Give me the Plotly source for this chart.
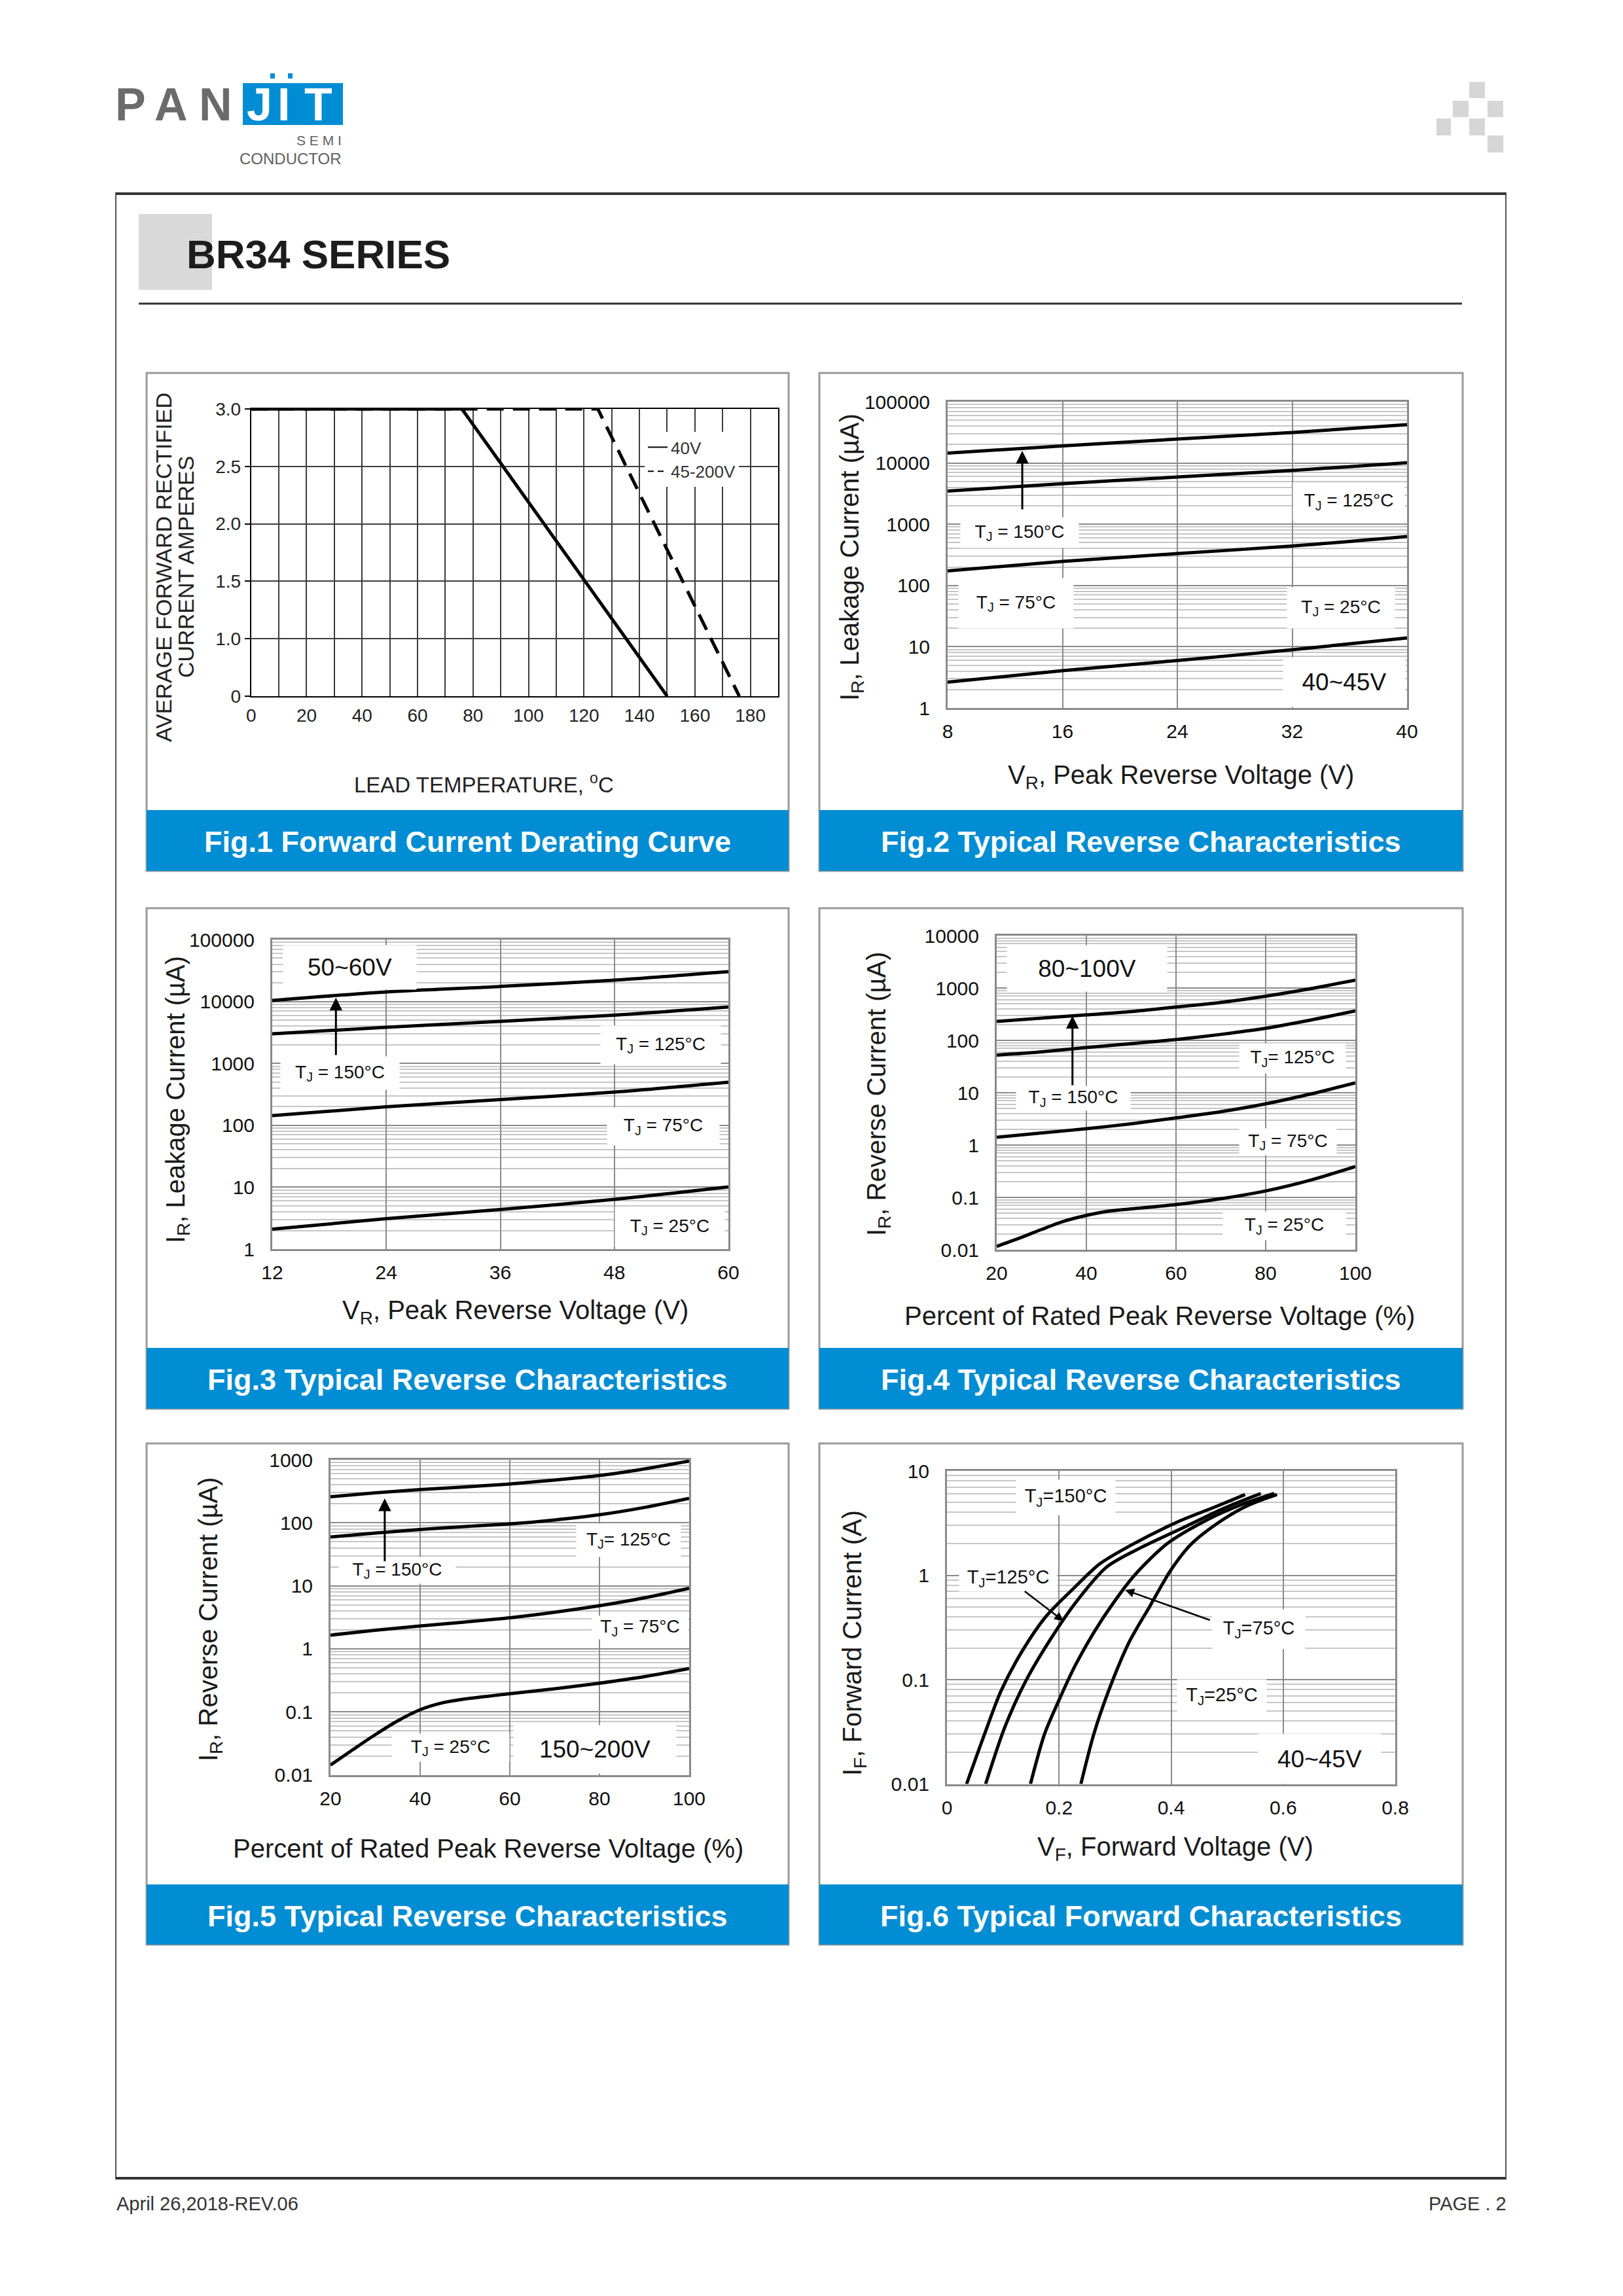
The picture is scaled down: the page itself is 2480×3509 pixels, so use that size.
import math
import plotly.graph_objects as go

# ---------------------------------------------------------------- data
# Fig.1 Forward current derating
fig1_temp_40v = [0, 76, 150]
fig1_amp_40v = [3.0, 3.0, 0.0]
fig1_temp_45_200v = [0, 125, 176]
fig1_amp_45_200v = [3.0, 3.0, 0.0]
fig1_x_ticks = list(range(0, 181, 20))
fig1_y_ticks = [0.0, 0.6, 1.2, 1.8, 2.4, 3.0]
fig1_y_labels = ["0", "1.0", "1.5", "2.0", "2.5", "3.0"]

# Fig.2 40~45V reverse characteristics
fig2_vr = [8, 16, 24, 32, 40]
fig2_150 = [14500, 19000, 24600, 31500, 42300]
fig2_125 = [3480, 4600, 5900, 7550, 10100]
fig2_75 = [173, 247, 332, 441, 630]
fig2_25 = [2.64, 4.07, 5.95, 8.93, 13.9]
fig2_arrow = (13.2, 1680, 15800)  # x, tail, head

# Fig.3 50~60V reverse characteristics
fig3_vr = [12, 24, 36, 48, 60]
fig3_150 = [10400, 14300, 17500, 22100, 30300]
fig3_125 = [3000, 3840, 4780, 6020, 8150]
fig3_75 = [143, 199, 260, 344, 497]
fig3_25 = [2.10, 3.10, 4.36, 6.36, 10.1]
fig3_arrow = (18.7, 1310, 11500)

# Fig.4 80~100V reverse characteristics
fig4_pct = [20, 30, 40, 50, 60, 70, 80, 90, 100]
fig4_150 = [230, 266, 307, 355, 434, 531, 698, 972, 1413]
fig4_125 = [52.3, 60.4, 72.9, 86.6, 104, 130, 170, 244, 365]
fig4_75 = [1.41, 1.70, 2.05, 2.55, 3.30, 4.34, 6.13, 9.44, 15.4]
fig4_25_pct = [20, 25, 30, 35, 40, 45, 50, 60, 70, 80, 90, 100]
fig4_25 = [0.0116, 0.0166, 0.0244, 0.035, 0.0453, 0.0546, 0.0604, 0.0729, 0.0944, 0.133, 0.214, 0.387]
fig4_arrow = (36.9, 13.3, 294)

# Fig.5 150~200V reverse characteristics
fig5_pct = [20, 30, 40, 50, 60, 70, 80, 90, 100]
fig5_150 = [259, 299, 337, 371, 413, 477, 563, 716, 953]
fig5_125 = [59.6, 68.8, 78.4, 87.3, 96, 111, 134, 175, 244]
fig5_75 = [1.65, 1.97, 2.30, 2.66, 3.11, 3.81, 4.83, 6.44, 9.1]
fig5_25_pct = [20, 25, 30, 35, 40, 45, 50, 60, 70, 80, 90, 100]
fig5_25 = [0.0143, 0.0251, 0.0435, 0.072, 0.108, 0.139, 0.160, 0.194, 0.232, 0.285, 0.361, 0.487]
fig5_arrow = (32.1, 23.7, 244)

# Fig.6 forward characteristics
fig6_150_v = [0.035, 0.067, 0.096, 0.133, 0.177, 0.229, 0.273, 0.332, 0.414, 0.48, 0.532]
fig6_150_i = [0.01, 0.030, 0.077, 0.183, 0.405, 0.776, 1.29, 1.99, 3.29, 4.55, 5.94]
fig6_125_v = [0.069, 0.103, 0.140, 0.185, 0.229, 0.285, 0.347, 0.421, 0.495, 0.560]
fig6_125_i = [0.01, 0.0348, 0.0957, 0.245, 0.542, 1.20, 1.85, 2.85, 4.40, 6.08]
fig6_75_v = [0.149, 0.174, 0.199, 0.229, 0.273, 0.332, 0.392, 0.465, 0.524, 0.584]
fig6_75_i = [0.01, 0.030, 0.062, 0.137, 0.351, 0.963, 1.99, 3.41, 4.72, 6.08]
fig6_25_v = [0.239, 0.262, 0.288, 0.325, 0.362, 0.399, 0.436, 0.488, 0.539, 0.589]
fig6_25_i = [0.01, 0.030, 0.077, 0.228, 0.504, 1.11, 1.99, 3.29, 4.72, 5.94]
fig6_arrow_125 = ((0.137, 0.713), (0.208, 0.364))  # tail, head
fig6_arrow_75 = ((0.471, 0.369), (0.318, 0.723))

# tick labels
vr_ticks_fig2 = [8, 16, 24, 32, 40]
vr_ticks_fig3 = [12, 24, 36, 48, 60]
pct_ticks = [20, 40, 60, 80, 100]
vf_ticks = [0, 0.2, 0.4, 0.6, 0.8]
vf_labels = ["0", "0.2", "0.4", "0.6", "0.8"]
fig2_decades = [0, 1, 2, 3, 4, 5]
fig2_ylabels = ["1", "10", "100", "1000", "10000", "100000"]
fig4_decades = [-2, -1, 0, 1, 2, 3, 4]
fig4_ylabels = ["0.01", "0.1", "1", "10", "100", "1000", "10000"]
fig5_decades = [-2, -1, 0, 1, 2, 3]
fig5_ylabels = ["0.01", "0.1", "1", "10", "100", "1000"]
fig6_decades = [-2, -1, 0, 1]
fig6_ylabels = ["0.01", "0.1", "1", "10"]

# ---------------------------------------------------------------- page geometry
OFF = 8
W, H = 2464, 3493
FONT = "Liberation Sans, Arial, sans-serif"
BLUE = "#018dd3"
GRID = "#8a8a8a"
MINOR = "#c6c6c6"


def px(x):
    return (x - OFF) / W


def py(y):
    return 1 - (y - OFF) / H


AX = {
    1: (383.7, 1189, 625, 1064),
    2: (1448, 2150, 614, 1082),
    3: (416, 1113, 1436, 1909),
    4: (1523, 2071, 1430, 1910),
    5: (505, 1053, 2231, 2712.5),
    6: (1447, 2132, 2248, 2726.5),
}

fig = go.Figure()


def ref(i):
    return ("x" if i == 1 else f"x{i}", "y" if i == 1 else f"y{i}")


def curve(i, x, y, dash=None, spline=True):
    xr, yr = ref(i)
    line = dict(color="black", width=5)
    if spline:
        line.update(shape="spline", smoothing=0.8)
    if dash:
        line["dash"] = dash
    fig.add_trace(go.Scatter(x=x, y=y, xaxis=xr, yaxis=yr, mode="lines", line=line,
                             showlegend=False, hoverinfo="skip"))


# Fig.1
curve(1, fig1_temp_45_200v, fig1_amp_45_200v, dash="26px,14px", spline=False)
curve(1, fig1_temp_40v, fig1_amp_40v, spline=False)
fig.add_trace(go.Scatter(x=[None], y=[None], mode="lines", name="40V",
                         line=dict(color="black", width=2)))
fig.add_trace(go.Scatter(x=[None], y=[None], mode="lines", name="45-200V",
                         line=dict(color="black", width=2, dash="9px,6px")))
# Fig.2-5
for series in (fig2_150, fig2_125, fig2_75, fig2_25):
    curve(2, fig2_vr, series)
for series in (fig3_150, fig3_125, fig3_75, fig3_25):
    curve(3, fig3_vr, series)
for series in (fig4_150, fig4_125, fig4_75):
    curve(4, fig4_pct, series)
curve(4, fig4_25_pct, fig4_25)
for series in (fig5_150, fig5_125, fig5_75):
    curve(5, fig5_pct, series)
curve(5, fig5_25_pct, fig5_25)
# Fig.6
curve(6, fig6_150_v, fig6_150_i)
curve(6, fig6_125_v, fig6_125_i)
curve(6, fig6_75_v, fig6_75_i)
curve(6, fig6_25_v, fig6_25_i)

layout = dict(width=W, height=H,
              margin=dict(l=0, r=0, t=0, b=0, pad=0, autoexpand=False),
              paper_bgcolor="white", plot_bgcolor="white",
              font=dict(family=FONT, color="#1a1a1a"), showlegend=True,
              legend=dict(x=px(985), y=py(660), xanchor="left", yanchor="top",
                          bgcolor="white", font=dict(size=26, family=FONT, color="#333"),
                          tracegroupgap=0, borderwidth=0, itemwidth=30),
              hovermode=False)

# axes
L, R, T, B = AX[1]
layout["xaxis"] = dict(domain=[px(L), px(R)], range=[0, 190], anchor="y", automargin=False,
                       tickmode="array", tickvals=fig1_x_ticks,
                       minor=dict(dtick=10, tick0=0, showgrid=True, gridcolor="#3c3c3c",
                                  gridwidth=1.5, ticks=""),
                       showgrid=True, gridcolor="#3c3c3c", gridwidth=1.5, zeroline=False,
                       showline=True, linecolor="black", linewidth=2, mirror=True,
                       ticks="", tickfont=dict(size=28, color="#222"), ticklabelstandoff=3)
layout["yaxis"] = dict(domain=[py(B), py(T)], range=[0, 3], anchor="x", automargin=False,
                       tickmode="array", tickvals=fig1_y_ticks, ticktext=fig1_y_labels,
                       showgrid=True, gridcolor="#3c3c3c", gridwidth=1.5, zeroline=False,
                       showline=True, linecolor="black", linewidth=2, mirror=True,
                       ticks="outside", ticklen=8, tickcolor="black", tickwidth=2,
                       tickfont=dict(size=28, color="#222"), ticklabelstandoff=0)


def log_axes(i, xrange, xticks, xlabels, decades, ylabels):
    L, R, T, B = AX[i]
    xr, yr = ref(i)
    minor_vals = [m * 10 ** k for k in decades[:-1] for m in range(2, 10)]
    layout[f"xaxis{i}"] = dict(domain=[px(L), px(R)], range=xrange, anchor=yr,
                               automargin=False,
                               tickmode="array", tickvals=xticks, ticktext=xlabels,
                               showgrid=True, gridcolor=GRID, gridwidth=2, zeroline=False,
                               showline=True, linecolor=GRID, linewidth=3, mirror=True,
                               ticks="", tickfont=dict(size=30, color="#111"),
                               ticklabelstandoff=7)
    layout[f"yaxis{i}"] = dict(domain=[py(B), py(T)], type="log",
                               range=[decades[0], decades[-1]], anchor=xr, automargin=False,
                               tickmode="array", tickvals=[10 ** k for k in decades],
                               ticktext=ylabels,
                               showgrid=True, gridcolor=GRID, gridwidth=2, zeroline=False,
                               showline=True, linecolor=GRID, linewidth=3, mirror=True,
                               minor=dict(tickmode="array", tickvals=minor_vals,
                                          showgrid=True, gridcolor=MINOR, gridwidth=2,
                                          ticks=""),
                               ticks="", tickfont=dict(size=30, color="#111"),
                               ticklabelstandoff=18)


log_axes(2, [8, 40], vr_ticks_fig2, [str(v) for v in vr_ticks_fig2], fig2_decades, fig2_ylabels)
log_axes(3, [12, 60], vr_ticks_fig3, [str(v) for v in vr_ticks_fig3], fig2_decades, fig2_ylabels)
log_axes(4, [20, 100], pct_ticks, [str(v) for v in pct_ticks], fig4_decades, fig4_ylabels)
log_axes(5, [20, 100], pct_ticks, [str(v) for v in pct_ticks], fig5_decades, fig5_ylabels)
log_axes(6, [0, 0.8], vf_ticks, vf_labels, fig6_decades, fig6_ylabels)

shapes = []
annotations = []


def rect(x0, y0, x1, y1, fill=None, line=None, lw=0, layer="below"):
    d = dict(type="rect", xref="paper", yref="paper", x0=px(x0), x1=px(x1),
             y0=py(y0), y1=py(y1), layer=layer,
             line=dict(width=lw, color=line or "rgba(0,0,0,0)"))
    if fill:
        d["fillcolor"] = fill
    shapes.append(d)


def hline(x0, x1, y, color, lw):
    shapes.append(dict(type="line", xref="paper", yref="paper", x0=px(x0), x1=px(x1),
                       y0=py(y), y1=py(y), line=dict(color=color, width=lw)))


def text(x, y, s, size, color="#1a1a1a", xanchor="center", angle=0, bold=False,
         family=FONT, **kw):
    if bold:
        s = f"<b>{s}</b>"
    annotations.append(dict(xref="paper", yref="paper", x=px(x), y=py(y), text=s,
                            showarrow=False, xanchor=xanchor, yanchor="middle",
                            textangle=angle, font=dict(size=size, color=color, family=family),
                            **kw))


def label_box(x0, y0, x1, y1, s, size):
    annotations.append(dict(xref="paper", yref="paper", x=px((x0 + x1) / 2), y=py((y0 + y1) / 2),
                            text=s, showarrow=False, xanchor="center", yanchor="middle",
                            width=x1 - x0, height=y1 - y0, bgcolor="white", borderpad=0,
                            align="center", valign="middle",
                            font=dict(size=size, color="#111", family=FONT)))


# page frame and header
rect(177, 295, 2301, 3330, line="#555", lw=2)
hline(177, 2301, 296, "#333", 4)
hline(177, 2301, 3329, "#333", 4)
rect(212, 327, 324, 443, fill="#d9d9d9")
text(283, 388, "BR34 SERIES", 62, color="#1c1c1c", xanchor="left", bold=True)
hline(212, 2234, 464, "#333", 3)

# logo
rect(371, 127, 524, 191, fill=BLUE)
rect(413, 112, 420, 120, fill=BLUE)
rect(440, 112, 447, 120, fill=BLUE)
for ch, cx in (("P", 199), ("A", 261), ("N", 329)):
    text(cx, 160, ch, 70, color="#6b6b6b", bold=True)
for ch, cx in (("J", 397), ("I", 433), ("T", 486)):
    text(cx, 160, ch, 70, color="white", bold=True)
text(524, 215, "S E M I", 21, color="#606060", xanchor="right")
text(524, 242, "CONDUCTOR", 24, color="#606060", xanchor="right")
for (a, b, c, d) in [(2245, 125, 2269, 150), (2220, 154, 2244, 179), (2273, 154, 2297, 179),
                     (2195, 181, 2217, 207), (2245, 181, 2269, 207), (2273, 207, 2297, 233)]:
    rect(a, b, c, d, fill="#d6d6d6")

# footer
text(176, 3368, "April 26,2018-REV.06", 29, color="#333", xanchor="left")
text(2304, 3368, "PAGE . 2", 29, color="#333", xanchor="right")

# panels
cols = [(224, 1205), (1252, 2235)]
rows = [(570, 1238, 1331), (1388, 2060, 2153), (2206, 2880, 2972)]
captions = ["Fig.1 Forward Current Derating Curve", "Fig.2 Typical Reverse Characteristics",
            "Fig.3 Typical Reverse Characteristics", "Fig.4 Typical Reverse Characteristics",
            "Fig.5 Typical Reverse Characteristics", "Fig.6 Typical Forward Characteristics"]
k = 0
for (top, cap0, cap1) in rows:
    for (l, r) in cols:
        rect(l, top, r, cap1, line="#9a9a9a", lw=3)
        rect(l, cap0, r, cap1, fill=BLUE)
        text((l + r) / 2, (cap0 + cap1) / 2 + 2, captions[k], 45, color="white", bold=True)
        k += 1

# axis titles
text(250, 867, "AVERAGE FORWARD RECTIFIED", 34, angle=-90, color="#222")
text(284, 867, "CURRENT AMPERES", 34, angle=-90, color="#222")
text(739, 1197, "LEAD TEMPERATURE, <sup>o</sup>C", 33, color="#222")

text(1804, 1187, "V<sub>R</sub>, Peak Reverse Voltage (V)", 40)
text(1301, 852, "I<sub>R</sub>, Leakage Current (µA)", 40, angle=-90)
text(787, 2005, "V<sub>R</sub>, Peak Reverse Voltage (V)", 40)
text(271, 1681, "I<sub>R</sub>, Leakage Current (µA)", 40, angle=-90)
text(1772, 2011, "Percent of Rated Peak Reverse Voltage (%)", 40)
text(1342, 1672, "I<sub>R</sub>, Reverse Current (µA)", 40, angle=-90)
text(746, 2825, "Percent of Rated Peak Reverse Voltage (%)", 40)
text(321, 2475, "I<sub>R</sub>, Reverse Current (µA)", 40, angle=-90)
text(1796, 2825, "V<sub>F</sub>, Forward Voltage (V)", 40)
text(1305, 2511, "I<sub>F</sub>, Forward Current (A)", 40, angle=-90)

TJ = "T<sub>J</sub>"
# Fig.2 labels
label_box(1468, 791, 1648, 837, f"{TJ} = 150°C", 28)
label_box(1976, 738, 2146, 795, f"{TJ} = 125°C", 28)
label_box(1465, 884, 1640, 960, f"{TJ} = 75°C", 28)
label_box(1967, 898, 2131, 960, f"{TJ} = 25°C", 28)
label_box(1961, 1005, 2147, 1080, "40~45V", 37)
# Fig.3 labels
label_box(433, 1445, 636, 1512, "50~60V", 37)
label_box(429, 1615, 610, 1665, f"{TJ} = 150°C", 28)
label_box(918, 1568, 1101, 1626, f"{TJ} = 125°C", 28)
label_box(928, 1693, 1099, 1750, f"{TJ} = 75°C", 28)
label_box(940, 1845, 1107, 1905, f"{TJ} = 25°C", 28)
# Fig.4 labels
label_box(1539, 1445, 1783, 1515, "80~100V", 37)
label_box(1553, 1660, 1727, 1697, f"{TJ} = 150°C", 28)
label_box(1894, 1595, 2056, 1640, f"{TJ}= 125°C", 28)
label_box(1894, 1725, 2042, 1765, f"{TJ} = 75°C", 28)
label_box(1869, 1852, 2056, 1895, f"{TJ} = 25°C", 28)
# Fig.5 labels
label_box(518, 2380, 696, 2420, f"{TJ} = 150°C", 28)
label_box(881, 2329, 1040, 2379, f"{TJ}= 125°C", 28)
label_box(905, 2470, 1051, 2505, f"{TJ} = 75°C", 28)
label_box(599, 2650, 778, 2692, f"{TJ} = 25°C", 28)
label_box(785, 2637, 1033, 2710, "150~200V", 37)
# Fig.6 labels
label_box(1553, 2262, 1704, 2315, f"{TJ}=150°C", 29)
label_box(1466, 2392, 1615, 2432, f"{TJ}=125°C", 29)
label_box(1853, 2460, 1994, 2520, f"{TJ}=75°C", 29)
label_box(1799, 2567, 1935, 2617, f"{TJ}=25°C", 29)
label_box(1923, 2650, 2110, 2726, "40~45V", 37)


def arrow(i, tail, head, log_y=True, width=3, size=1.2):
    xr, yr = ref(i)
    tx, ty = tail
    hx, hy = head
    if log_y:
        ty, hy = math.log10(ty), math.log10(hy)
    annotations.append(dict(xref=xr, yref=yr, axref=xr, ayref=yr, x=hx, y=hy, ax=tx, ay=ty,
                            text="", showarrow=True, arrowhead=2, arrowsize=size,
                            arrowwidth=width, arrowcolor="black", standoff=0, startstandoff=0))


for i, a in ((2, fig2_arrow), (3, fig3_arrow), (4, fig4_arrow), (5, fig5_arrow)):
    arrow(i, (a[0], a[1]), (a[0], a[2]), width=3, size=1.3)
arrow(6, fig6_arrow_125[0], fig6_arrow_125[1], width=2.5, size=1.1)
arrow(6, fig6_arrow_75[0], fig6_arrow_75[1], width=2.5, size=1.1)

layout["shapes"] = shapes
layout["annotations"] = annotations
fig.update_layout(**layout)
fig.write_html("out.html")
